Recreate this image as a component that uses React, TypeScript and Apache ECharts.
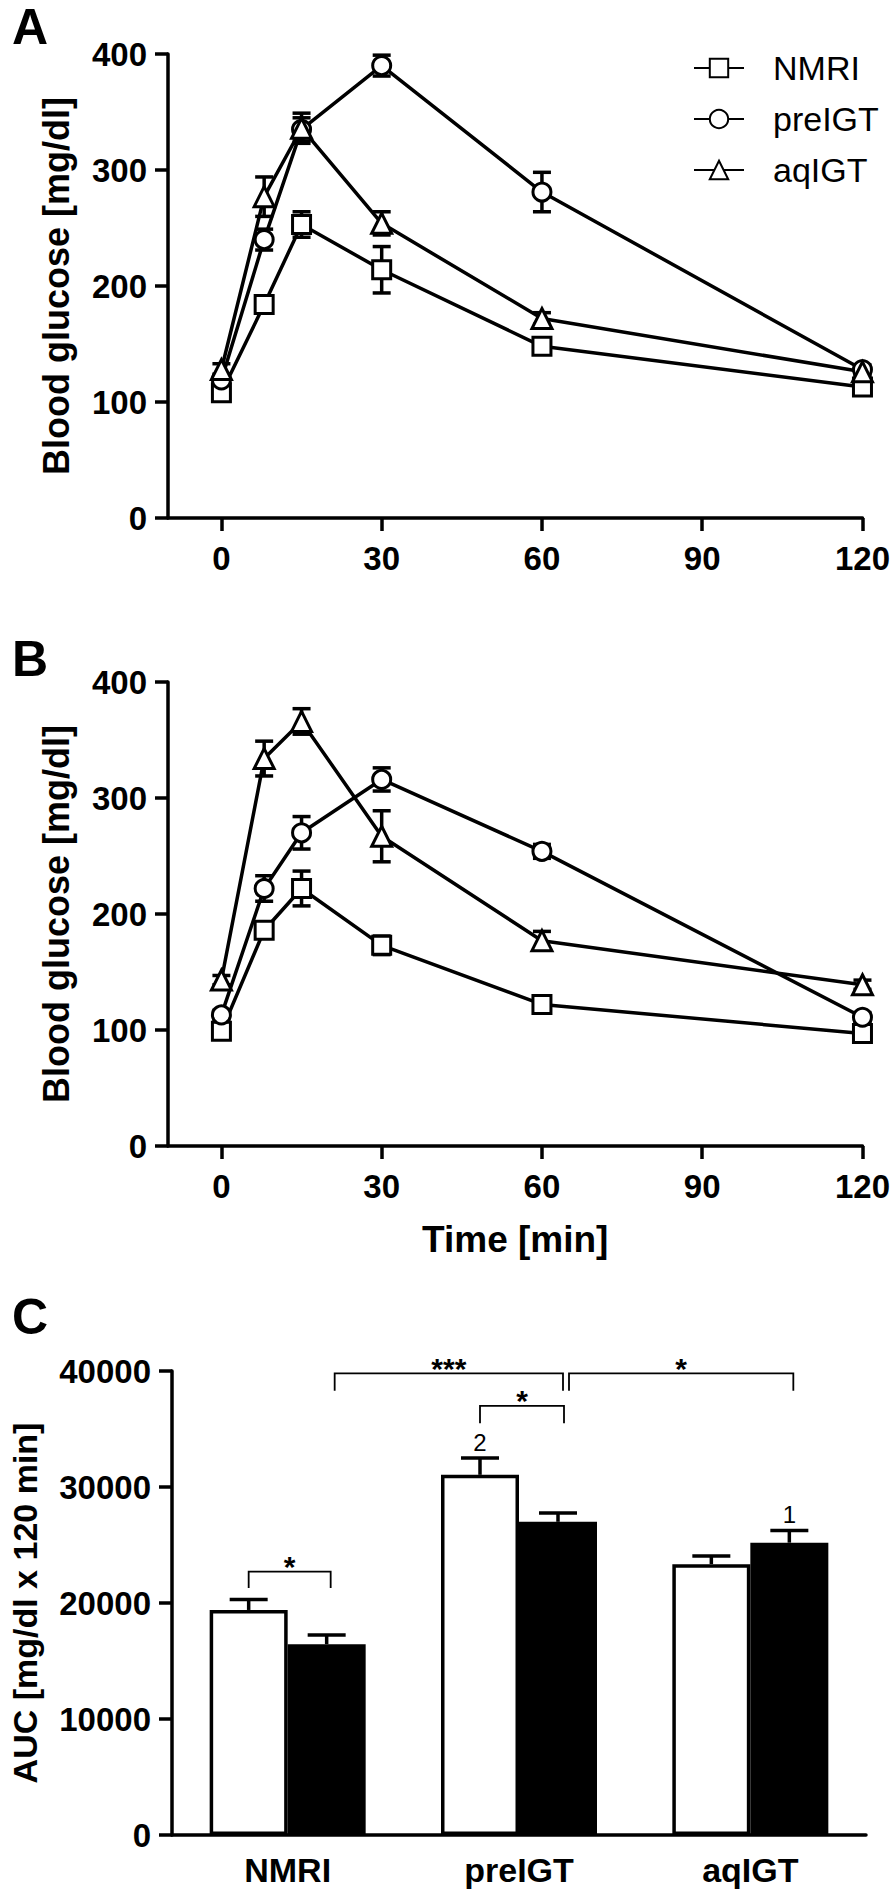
import React, { useEffect, useRef } from 'react';
import * as echarts from 'echarts';

const FONT = "Arial, 'Liberation Sans', Helvetica, sans-serif";

// ---------- data ----------
const timePoints = [0, 8, 15, 30, 60, 120];
const timeTicks = [0, 30, 60, 90, 120];
const groupNames = ['NMRI', 'preIGT', 'aqIGT'];
const groupSymbols = ['rect', 'circle', 'triangle'];

// Panel A
const aNMRI = [108, 184, 253, 214, 148, 113];
const aNMRIErr = [5, 7, 11, 20, 5, 4];
const aPreIGT = [119, 240, 335, 390, 281, 128];
const aPreIGTErr = [5, 9, 10, 9, 17, 4];
const aAqIGT = [128, 277, 336, 254, 172, 126];
const aAqIGTErr = [5, 17, 13, 10, 5, 4];

// Panel B
const bNMRI = [99, 186, 222, 173, 122, 97];
const bNMRIErr = [4, 5, 15, 8, 4, 4];
const bPreIGT = [113, 222, 270, 316, 254, 111];
const bPreIGTErr = [4, 11, 14, 10, 6, 4];
const bAqIGT = [143, 334, 366, 267, 177, 139];
const bAqIGTErr = [4, 15, 11, 22, 8, 4];

// Panel C
const aucCategories = ['NMRI', 'preIGT', 'aqIGT'];
const openBars = [19400, 31050, 23350];
const openErr = [900, 1450, 700];
const filledBars = [16450, 27000, 25200];
const filledErr = [800, 750, 1050];
const barMarks = ['', '', '2', '', '', '1']; // order: cat0 open, cat0 filled, cat1 open, ...

// brackets: [fromCategory, fromBar, toCategory, toBar, lineValue, legEndValue]
const brackets = [
  [0, 0, 0, 1, 22700, 21300],
  [0, 1, 1, 1, 39800, 38300],
  [1, 0, 1, 1, 37000, 35500],
  [1, 1, 2, 1, 39800, 38300],
];
const bracketLabels = ['*', '***', '*', '*'];
const bracketNudge = [[0, 4], [8, 5], [0, 6], [11, 4]];

// ---------- styles ----------
const AXIS_W = 3.5;
const BAR_W = 78;
const symbolSizes = [18, 18, 20];

function axisCommon() {
  return {
    axisLine: { show: true, onZero: false, lineStyle: { color: '#000', width: AXIS_W } },
    axisTick: { show: true, length: 13, lineStyle: { color: '#000', width: AXIS_W } },
    splitLine: { show: false },
    axisLabel: { color: '#000', fontSize: 33, fontWeight: 'bold', fontFamily: FONT, margin: 21 },
  };
}

function lineSeries(idx: number, name: string, symbol: string, vals: number[]) {
  return {
    type: 'line',
    name,
    xAxisIndex: idx,
    yAxisIndex: idx,
    data: timePoints.map((t, i) => [t, vals[i]]),
    symbol,
    symbolSize: symbolSizes[groupSymbols.indexOf(symbol)],
    showAllSymbol: true,
    lineStyle: { color: '#000', width: 3.5 },
    itemStyle: { color: '#fff', borderColor: '#000', borderWidth: 3 },
    z: 3,
    emphasis: { disabled: true },
    silent: true,
  };
}

function errSeries(idx: number, vals: number[], errs: number[]) {
  return {
    type: 'custom',
    xAxisIndex: idx,
    yAxisIndex: idx,
    z: 1,
    silent: true,
    encode: { x: 0, y: 1 },
    data: timePoints.map((t, i) => [t, vals[i], errs[i]]),
    renderItem: (params: any, api: any) => {
      const x = api.value(0);
      const m = api.value(1);
      const e = api.value(2);
      const top = api.coord([x, m + e]);
      const bot = api.coord([x, m - e]);
      const hw = 9;
      const st = { stroke: '#000', lineWidth: 3.5 };
      return {
        type: 'group',
        children: [
          { type: 'line', shape: { x1: top[0], y1: top[1], x2: bot[0], y2: bot[1] }, style: st },
          { type: 'line', shape: { x1: top[0] - hw, y1: top[1], x2: top[0] + hw, y2: top[1] }, style: st },
          { type: 'line', shape: { x1: bot[0] - hw, y1: bot[1], x2: bot[0] + hw, y2: bot[1] }, style: st },
        ],
      };
    },
  };
}

function buildOption() {
  const grids = [
    { left: 168, right: 30, top: 54, height: 464 },
    { left: 168, right: 30, top: 682, height: 464 },
    { left: 168, right: 27, top: 1371, height: 464 },
  ];

  const timeAxis = (idx: number, withName: boolean) => ({
    type: 'value',
    gridIndex: idx,
    min: -10,
    max: 120,
    ...axisCommon(),
    axisTick: { show: true, length: 13, lineStyle: { color: '#000', width: AXIS_W }, customValues: timeTicks },
    axisLabel: { color: '#000', fontSize: 33, fontWeight: 'bold', fontFamily: FONT, margin: 24, customValues: timeTicks },
    name: withName ? 'Time [min]' : '',
    nameLocation: 'middle',
    nameGap: 75,
    nameTextStyle: { color: '#000', fontSize: 37, fontWeight: 'bold', fontFamily: FONT },
  });

  const glucoseAxis = (idx: number) => ({
    type: 'value',
    gridIndex: idx,
    min: 0,
    max: 400,
    interval: 100,
    ...axisCommon(),
    name: 'Blood glucose [mg/dl]',
    nameLocation: 'middle',
    nameGap: 94,
    nameTextStyle: { color: '#000', fontSize: 36, fontWeight: 'bold', fontFamily: FONT },
  });

  const aVals = [aNMRI, aPreIGT, aAqIGT];
  const aErrs = [aNMRIErr, aPreIGTErr, aAqIGTErr];
  const bVals = [bNMRI, bPreIGT, bAqIGT];
  const bErrs = [bNMRIErr, bPreIGTErr, bAqIGTErr];

  const series: any[] = [];
  [0, 1].forEach((p) => {
    const vals = p === 0 ? aVals : bVals;
    const errs = p === 0 ? aErrs : bErrs;
    groupNames.forEach((g, i) => {
      series.push(errSeries(p, vals[i], errs[i]));
      series.push(lineSeries(p, g, groupSymbols[i], vals[i]));
    });
  });

  series.push({
    type: 'bar',
    name: 'open',
    xAxisIndex: 2,
    yAxisIndex: 2,
    data: openBars,
    barWidth: BAR_W,
    barGap: '0%',
    itemStyle: { color: '#fff', borderColor: '#000', borderWidth: 3.5 },
    z: 2,
    silent: true,
  });
  series.push({
    type: 'bar',
    name: 'filled',
    xAxisIndex: 2,
    yAxisIndex: 2,
    data: filledBars,
    barWidth: BAR_W,
    barGap: '0%',
    itemStyle: { color: '#000', borderColor: '#000', borderWidth: 0 },
    z: 2,
    silent: true,
  });

  const barErrData: number[][] = [];
  aucCategories.forEach((c, i) => {
    barErrData.push([i, 0, openBars[i], openErr[i]]);
    barErrData.push([i, 1, filledBars[i], filledErr[i]]);
  });

  series.push({
    type: 'custom',
    xAxisIndex: 2,
    yAxisIndex: 2,
    z: 3,
    silent: true,
    encode: { x: 0, y: 2 },
    data: barErrData,
    renderItem: (params: any, api: any) => {
      const c = api.value(0);
      const b = api.value(1);
      const m = api.value(2);
      const e = api.value(3);
      const topP = api.coord([c, m + e]);
      const meanP = api.coord([c, m]);
      const x = topP[0] + (b === 0 ? -1 : 1) * (BAR_W / 2);
      const st = { stroke: '#000', lineWidth: 3.5 };
      const children: any[] = [
        { type: 'line', shape: { x1: x, y1: meanP[1], x2: x, y2: topP[1] }, style: st },
        { type: 'line', shape: { x1: x - 19, y1: topP[1], x2: x + 19, y2: topP[1] }, style: st },
      ];
      const mark = barMarks[params.dataIndex];
      if (mark) {
        children.push({
          type: 'text',
          x,
          y: topP[1] - 16,
          style: {
            text: mark,
            fill: '#000',
            font: `24px ${FONT}`,
            align: 'center',
            verticalAlign: 'middle',
            textAlign: 'center',
            textVerticalAlign: 'middle',
          },
        });
      }
      return { type: 'group', children };
    },
  });

  series.push({
    type: 'custom',
    xAxisIndex: 2,
    yAxisIndex: 2,
    z: 4,
    silent: true,
    encode: { x: 0, y: 4 },
    data: brackets,
    renderItem: (params: any, api: any) => {
      const i = params.dataIndex;
      const c1 = api.value(0);
      const b1 = api.value(1);
      const c2 = api.value(2);
      const b2 = api.value(3);
      const yv = api.value(4);
      const lv = api.value(5);
      const p1 = api.coord([c1, yv]);
      const p2 = api.coord([c2, yv]);
      const legY = api.coord([c1, lv])[1];
      const x1 = p1[0] + (b1 === 0 ? -1 : 1) * (BAR_W / 2) + bracketNudge[i][0];
      const x2 = p2[0] + (b2 === 0 ? -1 : 1) * (BAR_W / 2) + bracketNudge[i][1];
      const y = p1[1];
      const st = { stroke: '#000', lineWidth: 1.8, fill: 'none' };
      return {
        type: 'group',
        children: [
          { type: 'polyline', shape: { points: [[x1, legY], [x1, y], [x2, y], [x2, legY]] }, style: st },
          {
            type: 'text',
            x: (x1 + x2) / 2,
            y: y - 5,
            style: {
              text: bracketLabels[i],
              fill: '#000',
              font: `bold 30px ${FONT}`,
              align: 'center',
              verticalAlign: 'middle',
              textAlign: 'center',
              textVerticalAlign: 'middle',
            },
          },
        ],
      };
    },
  });

  const letter = (t: string, y: number) => ({
    type: 'text',
    x: 12,
    y,
    style: {
      text: t,
      fill: '#000',
      font: `bold 50px ${FONT}`,
      align: 'left',
      verticalAlign: 'middle',
      textAlign: 'left',
      textVerticalAlign: 'middle',
    },
  });

  return {
    animation: false,
    backgroundColor: '#fff',
    grid: grids,
    xAxis: [
      timeAxis(0, false),
      timeAxis(1, true),
      {
        type: 'category',
        gridIndex: 2,
        data: aucCategories,
        ...axisCommon(),
        axisTick: { show: false },
        axisLabel: { color: '#000', fontSize: 34, fontWeight: 'bold', fontFamily: FONT, margin: 18 },
      },
    ],
    yAxis: [
      glucoseAxis(0),
      glucoseAxis(1),
      {
        type: 'value',
        gridIndex: 2,
        min: 0,
        max: 40000,
        interval: 10000,
        ...axisCommon(),
        axisLabel: {
          color: '#000',
          fontSize: 33,
          fontWeight: 'bold',
          fontFamily: FONT,
          margin: 21,
          formatter: (v: number) => String(v),
        },
        name: 'AUC [mg/dl x 120 min]',
        nameLocation: 'middle',
        nameGap: 130,
        nameTextStyle: { color: '#000', fontSize: 34, fontWeight: 'bold', fontFamily: FONT },
      },
    ],
    legend: {
      data: groupNames,
      orient: 'vertical',
      left: 693,
      top: 51,
      padding: 0,
      itemWidth: 50,
      itemHeight: 23,
      itemGap: 17,
      selectedMode: false,
      textStyle: { color: '#000', fontSize: 34, fontFamily: FONT, padding: [0, 0, 0, 24] },
    },
    graphic: [letter('A', 27), letter('B', 659), letter('C', 1317)],
    series,
  };
}

export default function App() {
  const ref = useRef<HTMLDivElement>(null);
  useEffect(() => {
    document.body.style.margin = '0';
    if (!ref.current) return;
    const chart = echarts.init(ref.current, undefined, { renderer: 'svg' });
    chart.setOption(buildOption() as any);
    return () => {
      chart.dispose();
    };
  }, []);
  return <div ref={ref} style={{ width: 893, height: 1892, background: '#fff' }} />;
}
